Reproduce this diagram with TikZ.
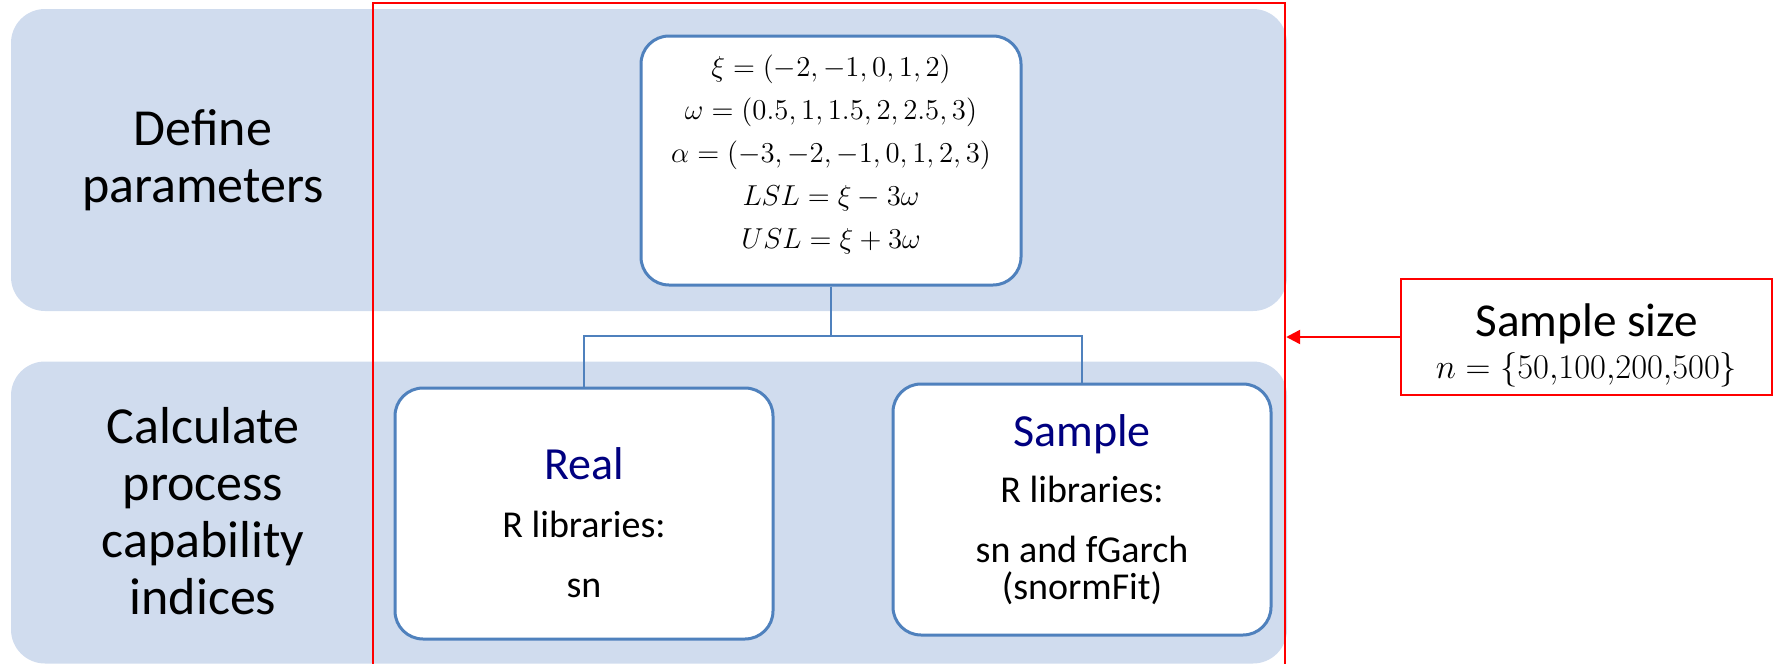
\documentclass[tikz,border=0pt]{standalone}
\usepackage{fontspec}
\setmainfont{Carlito}
\usetikzlibrary{arrows.meta,positioning}
\definecolor{bandblue}{HTML}{D0DCEE}
\definecolor{boxblue}{HTML}{4F81BD}
\definecolor{titleblue}{HTML}{000080}
\newcommand\casetitle[1]{{\color{titleblue}\fontsize{23}{26}\selectfont #1}}
\tikzset{band/.style={rectangle,rounded corners=17pt,fill=bandblue,draw=none,minimum width=638pt,minimum height=151pt,inner sep=0pt},
         stage text/.style={align=center,font=\fontsize{26}{28.5}\selectfont},
         white box/.style={rectangle,rounded corners=14pt,draw=boxblue,line width=1.5pt,fill=white,align=center,inner sep=0pt},
         case box/.style={white box,minimum width=189pt,minimum height=125.5pt,font=\fontsize{19}{22}\selectfont},
         red box/.style={rectangle,draw=red,line width=1.2pt,inner sep=0pt},
         link/.style={draw=boxblue,line width=1pt},
}

\begin{document}
\begin{tikzpicture}[x=0.5pt,y=-0.5pt]
\useasboundingbox (0,0) rectangle (1773,664);
% the two stages
\node[band] (top band) at (649,160) {};
\node[band] (bottom band) at (649,512.5) {};
\node[stage text] (define) at (203,160) {Define\\parameters};
\node[stage text] (calc) at (203,511.5) {Calculate\\process\\capability\\indices};
% red frame round the work
\node[red box,minimum width=456pt,minimum height=332.5pt] (frame) at (829,335.5) {};
\node[white box,minimum width=190pt,minimum height=124.5pt,font=\fontsize{14.6}{21.6}\selectfont] (params) at (831,160.5)
    {$\xi=(-2,-1,0,1,2)$\\
     $\omega=(0.5,1,1.5,2,2.5,3)$\\
     $\alpha=(-3,-2,-1,0,1,2,3)$\\
     $LSL=\xi-3\omega$\\
     $USL=\xi+3\omega$\rule[-8.8pt]{0pt}{8.8pt}};
\node[case box] (real) at (584,513.5) {\rule{0pt}{25pt}\casetitle{Real}\\[7pt]R libraries:\\[8pt]sn};
\node[case box] (sample) at (1082,509.5) {\casetitle{Sample}\\[6pt]R libraries:\\[7.7pt]sn and fGarch\\[-3.5pt](snormFit)};
\coordinate (split) at (831,336);
\draw[link] (params.south) -- (split) -| (real.north);
\draw[link] (split) -| (sample.north);
% sample size
\node[red box,minimum width=185.5pt,minimum height=58pt,align=center,font=\fontsize{16.4}{18}\selectfont] (size) at (1586.5,337)
    {\rule{0pt}{25pt}{\fontsize{23.6}{26}\selectfont Sample size}\\[3pt]$n=\{50{,}100{,}200{,}500\}$};
\draw[red,line width=1.2pt,-{Triangle[length=7pt,width=7pt]}] (size.west) -- (size.west -| frame.east);
\end{tikzpicture}
\end{document}
